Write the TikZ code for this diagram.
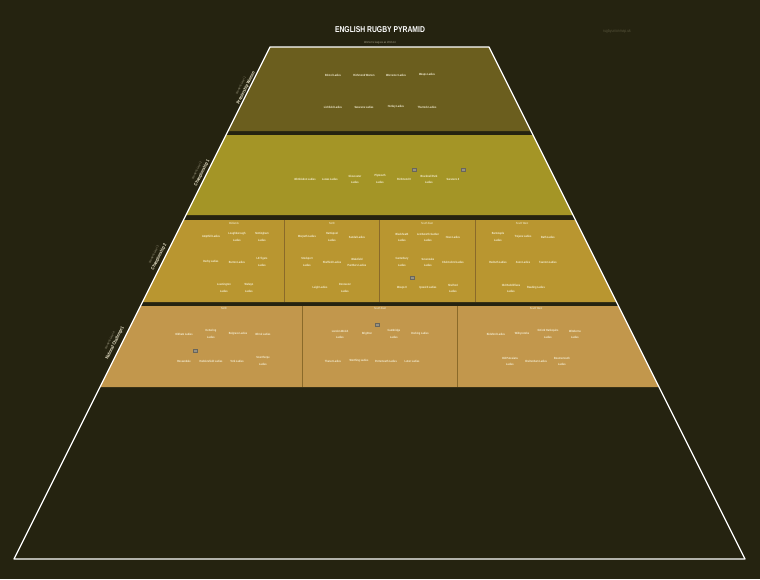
\documentclass[tikz,border=0pt]{standalone}
\usepackage{fontspec}
\setmainfont{Liberation Sans}[FakeStretch=0.8]
\usetikzlibrary{calc,positioning}

\definecolor{bgdark}{RGB}{37,35,16}
\definecolor{tierone}{RGB}{107,94,30}
\definecolor{tiertwo}{RGB}{164,149,38}
\definecolor{tierthree}{RGB}{185,150,48}
\definecolor{tierfour}{RGB}{194,151,76}
\definecolor{divcol}{RGB}{138,106,42}
\definecolor{cream}{RGB}{246,240,214}
\definecolor{greytxt}{RGB}{165,160,135}
\definecolor{sitegrey}{RGB}{85,82,58}
\definecolor{logogrey}{RGB}{150,146,132}

\newcommand\two[2]{\shortstack[c]{#1\\[0.9pt]#2}}

\tikzset{
	team/.style={text=cream, font=\fontsize{3}{3.4}\selectfont\bfseries, inner sep=0pt},
	head/.style={text=cream, font=\fontsize{3}{3.4}\selectfont, inner sep=0pt},
	level/.style={rotate=63.4, inner sep=0pt, text=cream, font=\fontsize{4.6}{5}\selectfont\bfseries},
	levelsub/.style={rotate=63.4, inner sep=0pt, text=greytxt, font=\fontsize{3}{3.4}\selectfont},
	logo/.style={draw=logogrey!70!black, fill=logogrey, minimum width=4pt, minimum height=3pt, inner sep=0pt},
	divline/.style={draw=divcol, line width=0.8pt}
}

\begin{document}
\begin{tikzpicture}[x=1pt,y=-1pt]
	\useasboundingbox[fill=bgdark] (0,0) rectangle (760,579);
	% tiers of the pyramid
	\fill[tierone] (270,47) -- (489,47) -- (531,131) -- (228,131) -- cycle;
	\fill[tiertwo] (226,135) -- (533,135) -- (573,215) -- (186,215) -- cycle;
	\fill[tierthree] (183.5,220) -- (575.5,220) -- (616.5,302) -- (142.5,302) -- cycle;
	\fill[tierfour] (140.5,306) -- (618.5,306) -- (659,387) -- (100,387) -- cycle;
	\foreach \x in {284,379,475}
		\draw[divline] (\x,220) -- (\x,302);
	\foreach \x in {302,457}
		\draw[divline] (\x,306) -- (\x,387);
	\coordinate (tl) at (270,47);
	\coordinate (tr) at (489,47);
	\coordinate (br) at (745,559);
	\coordinate (bl) at (14,559);
	\draw[white, line width=1.2pt, line join=round] (tl) -- (tr) -- (br) -- (bl) -- cycle;

	% title
	\node[text=white, font=\fontsize{8.5}{9}\selectfont\bfseries] (title) at (380,30) {ENGLISH RUGBY PYRAMID};
	\node[text=greytxt, font=\fontsize{3}{3.4}\selectfont, below=1.5pt of title] (sub) {Women's leagues as 2013-14};
	\node[text=sitegrey, font=\fontsize{4.2}{5}\selectfont] (site) at (617,31) {rugbyunionmap.uk};

	% level labels
	\foreach \x/\y/\n/\t [count=\i] in {246/88/1/Premiership Women, 202/173/2/Championship 1, 159/257/3/Championship 2, 115/343/4/National Challenge 1}{
		\node[level] (lv\i) at (\x,\y) {\t};
		\node[levelsub] (lvs\i) at ($(lv\i)+(-5.2,-2.6)$) {Women's Level \n};
	}

	% level 1
	\foreach \x/\t [count=\i] in {333/Bristol Ladies, 364/Richmond Women, 396/Worcester Ladies, 427/Wasps Ladies}
		\node[team] (pa\i) at (\x,75) {\t};
	\foreach \x/\t [count=\i] in {333/Lichfield Ladies, 364/Saracens Ladies, 396/Henley Ladies, 427/Thurrock Ladies}
		\node[team] (pb\i) at (\x,107) {\t};

	% level 2
	\foreach \x/\t [count=\i] in {305/Wimbledon Ladies, 330/Lewes Ladies, 355/\two{Gloucester}{Ladies}, 380/\two{Plymouth}{Ladies}, 404/Richmond II, 429/\two{Bracknell Park}{Ladies}, 453/Saracens II}
		\node[team] (ca\i) at (\x,179) {\t};
	\node[logo] (cl1) at (414,170) {};
	\node[logo] (cl2) at (463,170) {};

	% level 3
	\foreach \x/\t in {234/Midlands, 332/North, 427/South East, 522/South West}
		\node[head] at (\x,223) {\t};
	\foreach \x/\y/\t [count=\i] in {
		211/237/Ampthill Ladies, 237/237/\two{Loughborough}{Ladies}, 262/237/\two{Nottingham}{Ladies},
		211/262/Derby Ladies, 237/262/Burton Ladies, 262/262/\two{LE Tigers}{Ladies},
		224/288/\two{Leamington}{Ladies}, 249/288/\two{Welwyn}{Ladies},
		307/237/Morpeth Ladies, 332/237/\two{Hartlepool}{Ladies}, 357/237/Sandal Ladies,
		307/262/\two{Stockport}{Ladies}, 332/262/Sheffield Ladies, 357/262/\two{Wakefield}{Panthers Ladies},
		320/288/Leigh Ladies, 345/288/\two{Doncaster}{Ladies},
		402/237/\two{Blackheath}{Ladies}, 428/237/\two{Letchworth Garden}{Ladies}, 453/237/Hove Ladies,
		402/262/\two{Canterbury}{Ladies}, 428/262/\two{Sevenoaks}{Ladies}, 453/262/Chelmsford Ladies,
		402/288/Wasps II, 428/288/Ipswich Ladies, 453/288/\two{Shelford}{Ladies},
		498/237/\two{Barnstaple}{Ladies}, 523/237/Trojans Ladies, 548/237/Bath Ladies,
		498/262/Redruth Ladies, 523/262/Avon Ladies, 548/262/Taunton Ladies,
		511/288/\two{Old Redcliffians}{Ladies}, 536/288/Reading Ladies}
		\node[team] (cb\i) at (\x,\y) {\t};
	\node[logo] (cl3) at (412,278) {};

	% level 4
	\foreach \x/\t in {224/North, 380/South East, 536/South West}
		\node[head] at (\x,308) {\t};
	\foreach \x/\y/\t [count=\i] in {
		184/334/Oldham Ladies, 211/334/\two{Kettering}{Ladies}, 238/334/Belgrave Ladies, 263/334/Wirral Ladies,
		184/361/Rossendale, 211/361/Huddersfield Ladies, 237/361/York Ladies, 263/361/\two{Scunthorpe}{Ladies},
		340/334/\two{London Welsh}{Ladies}, 367/334/Brighton, 394/334/\two{Cambridge}{Ladies}, 420/334/Dorking Ladies,
		333/361/Thanet Ladies, 359/361/Worthing Ladies, 386/361/Portsmouth Ladies, 412/361/Luton Ladies,
		496/334/Bideford Ladies, 522/334/Withycombe, 548/334/\two{Oxford Harlequins}{Ladies}, 575/334/\two{Wimborne}{Ladies},
		510/361/\two{Old Patesians}{Ladies}, 536/361/Cheltenham Ladies, 562/361/\two{Bournemouth}{Ladies}}
		\node[team] (cc\i) at (\x,\y) {\t};
	\node[logo] (cl4) at (195,351) {};
	\node[logo] (cl5) at (377,325) {};
\end{tikzpicture}
\end{document}
